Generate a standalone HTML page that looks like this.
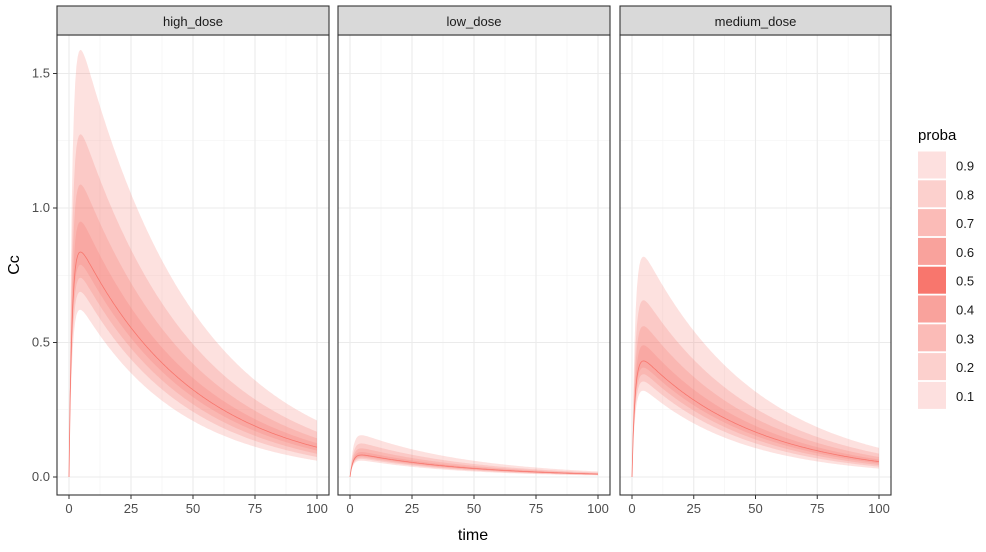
<!DOCTYPE html>
<html><head><meta charset="utf-8"><style>
body{margin:0;background:#fff;}
svg{font-family:"Liberation Sans",sans-serif;}
</style></head><body>
<svg id="s" width="986" height="547" xmlns="http://www.w3.org/2000/svg"></svg>
<script>
const s=document.getElementById('s');
let h='';
const panels=[{x0:57,x1:329,name:'high_dose',A:0.95},{x0:338,x1:610,name:'low_dose',A:0.093},{x0:620,x1:891,name:'medium_dose',A:0.49}];
const yT=35,yB=495;
const Y=v=>477-v*269;
const k=0.0215,ka=0.8;
const med=(A,t)=>A*(Math.exp(-k*t)-Math.exp(-ka*t));
const z=[1.2816,0.8416,0.5244,0.2533];
panels.forEach(p=>{
 const X=t=>p.x0+12+t*(p.x1-p.x0-24)/100;
 h+=`<rect x="${p.x0}" y="${yT}" width="${p.x1-p.x0}" height="${yB-yT}" fill="#fff"/>`;
 for(let v=0.25;v<1.7;v+=0.5)h+=`<line x1="${p.x0}" x2="${p.x1}" y1="${Y(v)}" y2="${Y(v)}" stroke="#f2f2f2" stroke-width="0.6"/>`;
 for(let t=12.5;t<100;t+=25)h+=`<line y1="${yT}" y2="${yB}" x1="${X(t)}" x2="${X(t)}" stroke="#f2f2f2" stroke-width="0.6"/>`;
 for(let v=0;v<=1.5;v+=0.5)h+=`<line x1="${p.x0}" x2="${p.x1}" y1="${Y(v)}" y2="${Y(v)}" stroke="#ebebeb" stroke-width="1.1"/>`;
 for(let t=0;t<=100;t+=25)h+=`<line y1="${yT}" y2="${yB}" x1="${X(t)}" x2="${X(t)}" stroke="#ebebeb" stroke-width="1.1"/>`;
 const ts=[];for(let t=0;t<=100;t+=0.5)ts.push(t);
 z.forEach(zz=>{
  let up=[],lo=[];
  ts.forEach(t=>{const m=med(p.A,t);const su=0.5,sl=0.22+0.25*t/100;
   up.push(`${X(t).toFixed(1)},${Y(m*Math.exp(su*zz)).toFixed(1)}`);
   lo.push(`${X(t).toFixed(1)},${Y(m*Math.exp(-sl*zz)).toFixed(1)}`);});
  h+=`<polygon points="${up.join(' ')} ${lo.reverse().join(' ')}" fill="#F8766D" fill-opacity="0.22"/>`;
 });
 h+=`<polyline fill="none" stroke="#F8766D" stroke-width="0.8" points="${ts.map(t=>X(t).toFixed(1)+','+Y(med(p.A,t)).toFixed(1)).join(' ')}"/>`;
 h+=`<rect x="${p.x0}" y="${yT}" width="${p.x1-p.x0}" height="${yB-yT}" fill="none" stroke="#333" stroke-width="1.1"/>`;
 h+=`<rect x="${p.x0}" y="6" width="${p.x1-p.x0}" height="${yT-6}" fill="#d9d9d9" stroke="#333" stroke-width="1.1"/>`;
 h+=`<text x="${(p.x0+p.x1)/2}" y="26" font-size="13" fill="#1a1a1a" text-anchor="middle">${p.name}</text>`;
 for(let t=0;t<=100;t+=25){h+=`<line x1="${X(t)}" x2="${X(t)}" y1="${yB}" y2="${yB+4}" stroke="#333"/>`;
  h+=`<text x="${X(t)}" y="${yB+18}" font-size="13" fill="#4d4d4d" text-anchor="middle">${t}</text>`;}
});
[0,0.5,1,1.5].forEach(v=>{h+=`<line x1="53" x2="57" y1="${Y(v)}" y2="${Y(v)}" stroke="#333"/>`;
 h+=`<text x="50" y="${Y(v)+4}" font-size="13" fill="#4d4d4d" text-anchor="end">${v.toFixed(1)}</text>`;});
h+=`<text x="473" y="540" font-size="16" fill="#000" text-anchor="middle">time</text>`;
h+=`<text x="19" y="265" font-size="16" fill="#000" text-anchor="middle" transform="rotate(-90 19 265)">Cc</text>`;
h+=`<text x="918" y="140" font-size="15" fill="#000">proba</text>`;
const cols=['#fde0df','#fcd0cd','#fbbbb7','#f9a29c','#f8766d','#f9a29c','#fbbbb7','#fcd0cd','#fde0df'];
const labs=['0.9','0.8','0.7','0.6','0.5','0.4','0.3','0.2','0.1'];
for(let i=0;i<9;i++){const y=151.5+i*28.8;
 h+=`<rect x="918" y="${y}" width="28" height="27" fill="${cols[i]}"/>`;
 h+=`<text x="956" y="${y+19}" font-size="13" fill="#1a1a1a">${labs[i]}</text>`;}
s.innerHTML=h;
</script>
</body></html>
